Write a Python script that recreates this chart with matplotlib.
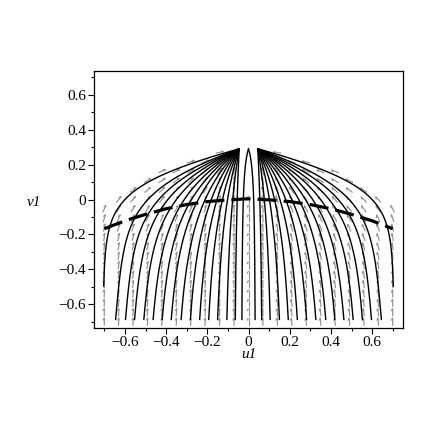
import numpy as np
import matplotlib.pyplot as plt
from matplotlib.collections import LineCollection
from matplotlib.ticker import MultipleLocator

# 轨线初始点 (u1, v1)
u_start = [-0.703, -0.645, -0.597, -0.553, -0.508, -0.463, -0.419, -0.375,
           -0.327, -0.282, -0.237, -0.193, -0.150, -0.105, -0.064, -0.032,
           0.032, 0.064, 0.105, 0.150, 0.193, 0.237, 0.282, 0.327,
           0.375, 0.419, 0.463, 0.508, 0.553, 0.597, 0.645, 0.703]
v_start = [-0.495] + [-0.686] * 30 + [-0.495]

# 粗虚线（奇异曲线）
sep_u = [-0.70, -0.60, -0.50, -0.40, -0.30, -0.20, -0.10, 0.0,
         0.10, 0.20, 0.30, 0.40, 0.50, 0.60, 0.70]
sep_v = [-0.167, -0.122, -0.085, -0.053, -0.029, -0.012, -0.002, 0.004,
         -0.002, -0.012, -0.029, -0.053, -0.085, -0.122, -0.167]

# 方向场网格
grid_u = np.linspace(-0.7, 0.7, 21)
grid_v = np.linspace(-0.7, 0.7, 27)

# 方程参数
v_top = 0.29
delta, beta0 = 0.045, 0.12
lam_out, lam_in = 0.13, 0.45
env_a, env_k = 0.30, 0.70   # 方向场有定义的区域 v1 <= env_a - env_k*u1^2


def shift(u):
    return np.sign(u) * delta * min(1.0, (abs(u) / delta) ** 2)


def dudv(u, v):
    # du1/dv1
    w = max(v_top - v, 1e-4)
    lam = lam_out + (lam_in - lam_out) * max(0.0, 1 - abs(u) / 0.7)
    beta = beta0 * min(1.0, max(0.0, (0.715 - abs(u)) / 0.07))
    F = 1 - np.exp(-w / lam) + beta * w
    dF = np.exp(-w / lam) / lam + beta
    return -(u - shift(u)) * dF / F


def solve(u0, v0, v1=v_top - 0.001, n=900):
    h = (v1 - v0) / n
    us, vs = [u0], [v0]
    u, v = u0, v0
    for i in range(n):
        k1 = dudv(u, v)
        k2 = dudv(u + h * k1 / 2, v + h / 2)
        k3 = dudv(u + h * k2 / 2, v + h / 2)
        k4 = dudv(u + h * k3, v + h)
        u = u + h * (k1 + 2 * k2 + 2 * k3 + k4) / 6
        v = v + h
        us.append(u)
        vs.append(v)
    return us, vs


plt.rcParams['font.family'] = ['Liberation Serif', 'DejaVu Serif']

fig = plt.figure(figsize=(4.36, 4.36), dpi=100)
ax = fig.add_axes([94 / 436, 1 - 328 / 436, 309 / 436, 257 / 436])
xlim = (-0.75, 0.75)
ylim = (-0.735, 0.735)
ax.set_xlim(xlim)
ax.set_ylim(ylim)

# 像素比例，用于箭头长度一致
sx = 309 / (xlim[1] - xlim[0])
sy = 257 / (ylim[1] - ylim[0])

shafts, heads = [], []
L, hl = 8.0, 3.0
th = np.radians(28)
for gu in grid_u:
    for gv in grid_v:
        if gv >= v_top - 0.005 or gv > env_a - env_k * gu ** 2:
            continue
        if abs(gu) < 1e-9 and gv > 0:
            continue
        dx = dudv(gu, gv) * sx
        dy = 1.0 * sy
        n = np.hypot(dx, dy)
        dx, dy = dx / n, dy / n
        x0 = gu - 0.5 * L * dx / sx
        y0 = gv - 0.5 * L * dy / sy
        x1 = gu + 0.5 * L * dx / sx
        y1 = gv + 0.5 * L * dy / sy
        shafts.append([(x0, y0), (x1, y1)])
        bx, by = -dx, -dy
        rx = bx * np.cos(th) + by * np.sin(th)
        ry = -bx * np.sin(th) + by * np.cos(th)
        heads.append([(x1, y1), (x1 + hl * rx / sx, y1 + hl * ry / sy)])

ax.add_collection(LineCollection(shafts, colors='#8c8c8c', linewidths=0.8))
ax.add_collection(LineCollection(heads, colors='#8c8c8c', linewidths=0.8))

for u0, v0 in zip(u_start, v_start):
    us, vs = solve(u0, v0)
    ax.plot(us, vs, color='black', linewidth=1.0)

ax.plot(sep_u, sep_v, color='black', linewidth=2.3, linestyle=(0, (6.0, 2.2)))


def fmt(x, p):
    if abs(x) < 1e-9:
        return '0'
    return ('%.1f' % x).replace('-', '\u2212')


ax.xaxis.set_major_locator(MultipleLocator(0.2))
ax.xaxis.set_minor_locator(MultipleLocator(0.1))
ax.yaxis.set_major_locator(MultipleLocator(0.2))
ax.yaxis.set_minor_locator(MultipleLocator(0.1))
ax.xaxis.set_major_formatter(plt.FuncFormatter(fmt))
ax.yaxis.set_major_formatter(plt.FuncFormatter(fmt))
ax.tick_params(which='major', direction='out', length=4.5, width=0.8, labelsize=11, pad=1.0)
ax.tick_params(which='minor', direction='out', length=2.5, width=0.8)
for sp in ax.spines.values():
    sp.set_linewidth(0.9)

ax.set_xlabel('u1', fontstyle='italic', fontsize=11)
ax.xaxis.set_label_coords(0.5, -0.105)
ax.xaxis.label.set_va('center')
ax.set_ylabel('v1', fontstyle='italic', fontsize=11, rotation=0)
ax.yaxis.set_label_coords(-0.194, 0.49)
ax.yaxis.label.set_va('center')
ax.yaxis.label.set_ha('center')

plt.savefig('out.png', dpi=100)
plt.close()
